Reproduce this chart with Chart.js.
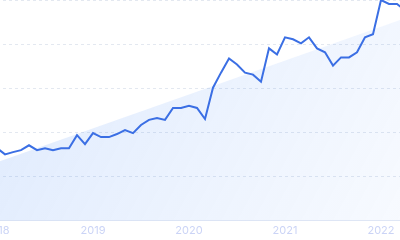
<!DOCTYPE html>
<html>
<head>
<meta charset="utf-8">
<script src="https://cdn.jsdelivr.net/npm/chart.js@4"></script>
<style>
  html, body { margin: 0; padding: 0; background: #ffffff; overflow: hidden; }
  #wrap { position: absolute; left: -3px; top: 0; width: 408px; height: 240px; }
</style>
</head>
<body>
<div id="wrap"><canvas id="grafico"></canvas></div>
<script>
// Valores mensais (jan/2018 a abr/2022)
const anoInicio = 2018;
const valores = [
    32.9, 30.1, 31.1, 32.0, 34.2, 32.0, 32.9, 32.0, 32.9, 32.9, 38.8, 34.7,
    39.7, 37.9, 37.9, 39.3, 41.1, 39.7, 43.4, 45.7, 46.6, 45.7, 51.1, 51.1,
    52.1, 51.1, 46.1, 60.3, 67.1, 73.5, 70.8, 67.1, 66.2, 63.0, 78.1, 75.3,
    83.1, 82.2, 80.4, 83.1, 78.1, 76.3, 70.3, 74.0, 74.0, 76.3, 83.1, 84.5,
    100, 98.2, 98.2, 95.4
];
// Tendência: só início e fim, a linha liga os dois
const tendenciaInicio = 26.5;
const tendenciaFim = 91.7;
const escalaY = { min: 0, max: 100, passo: 20 };

const meses = valores.map((_, i) => {
    const ano = anoInicio + Math.floor(i / 12);
    const mes = (i % 12) + 1;
    return `${ano}-${String(mes).padStart(2, '0')}`;
});

const tendencia = valores.map((_, i) => {
    if (i === 0) return tendenciaInicio;
    if (i === valores.length - 1) return tendenciaFim;
    return null;
});

function gradienteArea(context) {
    const area = context.chart.chartArea;
    if (!area) return 'rgba(59,130,246,0.1)';
    const g = context.chart.ctx.createLinearGradient(area.left, area.top, area.right, area.bottom);
    g.addColorStop(0, 'rgba(59,130,246,0.17)');
    g.addColorStop(1, 'rgba(59,130,246,0.04)');
    return g;
}

const ctx = document.getElementById('grafico').getContext('2d');
new Chart(ctx, {
    type: 'line',
    data: {
        labels: meses,
        datasets: [{
            data: valores,
            borderColor: '#3b6fe4',
            borderWidth: 2,
            pointRadius: 0,
            tension: 0,
            fill: false,
            order: 1
        }, {
            data: tendencia,
            spanGaps: true,
            borderWidth: 0,
            borderColor: 'rgba(0,0,0,0)',
            pointRadius: 0,
            backgroundColor: gradienteArea,
            fill: 'origin',
            order: 2
        }]
    },
    options: {
        responsive: true,
        maintainAspectRatio: false,
        animation: false,
        layout: { padding: 0 },
        plugins: { legend: { display: false }, tooltip: { enabled: false } },
        scales: {
            x: {
                grid: { display: false, drawTicks: false },
                border: { display: true, color: '#e2e8f5', width: 1 },
                ticks: {
                    autoSkip: false,
                    maxRotation: 0,
                    padding: 3,
                    color: '#cbd4f6',
                    font: { family: 'Inter', size: 11 },
                    callback: function(valor, i) {
                        const rotulo = meses[i];
                        return rotulo.endsWith('-01') ? rotulo.slice(0, 4) : '';
                    }
                },
                afterFit: function(escala) {
                    escala.paddingLeft = 0;
                    escala.paddingRight = 0;
                }
            },
            y: {
                min: escalaY.min,
                max: escalaY.max,
                ticks: { display: false, stepSize: escalaY.passo },
                // no v4 o tracejado da grade vem de border.dash
                border: { display: false, dash: [3, 3] },
                grid: {
                    drawTicks: false,
                    color: '#e3e8f0',
                    lineWidth: 1
                },
                afterFit: function(escala) {
                    escala.width = 0;
                }
            }
        }
    }
});
</script>
</body>
</html>
